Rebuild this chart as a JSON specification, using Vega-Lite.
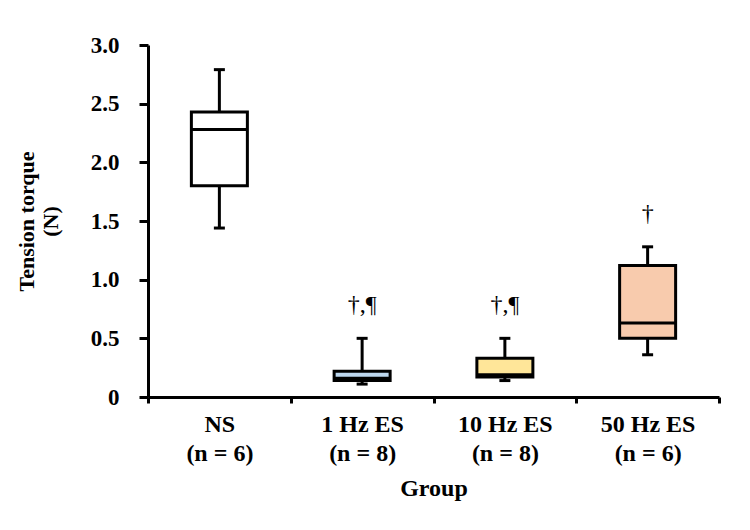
{
  "$schema": "https://vega.github.io/schema/vega-lite/v6.json",
  "autosize": {"type": "none"},
  "padding": {"left": 148, "top": 45, "right": 31, "bottom": 133},
  "width": 571,
  "height": 352,
  "background": "white",
  "config": {
    "view": {"stroke": null},
    "font": "Liberation Serif"
  },
  "data": {
    "values": [
      {"group": "NS\n(n = 6)", "min": 1.44, "q1": 1.80, "median": 2.28, "q3": 2.43, "max": 2.79, "sig": "", "sigY": 0},
      {"group": "1 Hz ES\n(n = 8)", "min": 0.11, "q1": 0.14, "median": 0.16, "q3": 0.22, "max": 0.50, "sig": "†,¶", "sigY": 0.78},
      {"group": "10 Hz ES\n(n = 8)", "min": 0.14, "q1": 0.17, "median": 0.19, "q3": 0.33, "max": 0.50, "sig": "†,¶", "sigY": 0.78},
      {"group": "50 Hz ES\n(n = 6)", "min": 0.36, "q1": 0.50, "median": 0.63, "q3": 1.12, "max": 1.28, "sig": "†", "sigY": 1.56}
    ]
  },
  "encoding": {
    "x": {
      "field": "group",
      "type": "nominal",
      "sort": null,
      "scale": {"paddingInner": 0, "paddingOuter": 0},
      "axis": {
        "title": "Group",
        "titleFont": "Liberation Serif",
        "titleFontSize": 24,
        "titleFontWeight": "bold",
        "titleColor": "black",
        "titlePadding": 11,
        "labelAngle": 0,
        "labelExpr": "isValid(datum.value) ? split(datum.value, '\\n') : ''",
        "labelFont": "Liberation Serif",
        "labelFontSize": 24,
        "labelFontWeight": "bold",
        "labelColor": "black",
        "labelLineHeight": 29,
        "labelPadding": 9,
        "domainColor": "black",
        "domainWidth": 3,
        "tickColor": "black",
        "tickWidth": 3,
        "tickSize": 6,
        "tickBand": "extent"
      }
    }
  },
  "layer": [
    {
      "mark": {"type": "rule", "color": "black", "strokeWidth": 3},
      "encoding": {
        "y": {
          "field": "min",
          "type": "quantitative",
          "scale": {"domain": [0, 3]},
          "axis": {
            "title": ["Tension torque", "(N)"],
            "titleFont": "Liberation Serif",
            "titleFontSize": 22,
            "titleFontWeight": "bold",
            "titleColor": "black",
            "titleLineHeight": 24,
            "titlePadding": 28,
            "values": [0, 0.5, 1, 1.5, 2, 2.5, 3],
            "labelExpr": "datum.value == 0 ? '0' : format(datum.value, '.1f')",
            "labelFont": "Liberation Serif",
            "labelFontSize": 23,
            "labelFontWeight": "bold",
            "labelColor": "black",
            "labelPadding": 20,
            "domainColor": "black",
            "domainWidth": 3,
            "tickColor": "black",
            "tickWidth": 3,
            "tickSize": 9,
            "grid": false
          }
        },
        "y2": {"field": "max"}
      }
    },
    {
      "mark": {"type": "bar", "size": 56, "stroke": "black", "strokeWidth": 3},
      "encoding": {
        "y": {"field": "q1", "type": "quantitative"},
        "y2": {"field": "q3"},
        "fill": {
          "field": "group",
          "type": "nominal",
          "sort": null,
          "scale": {"range": ["#ffffff", "#bdd7ee", "#ffe699", "#f8cbad"]},
          "legend": null
        }
      }
    },
    {
      "mark": {"type": "tick", "color": "black", "size": 56, "thickness": 3, "opacity": 1},
      "encoding": {"y": {"field": "median", "type": "quantitative"}}
    },
    {
      "mark": {"type": "tick", "color": "black", "size": 11, "thickness": 3, "opacity": 1},
      "encoding": {"y": {"field": "max", "type": "quantitative"}}
    },
    {
      "mark": {"type": "tick", "color": "black", "size": 11, "thickness": 3, "opacity": 1},
      "encoding": {"y": {"field": "min", "type": "quantitative"}}
    },
    {
      "mark": {"type": "text", "font": "Liberation Serif", "fontSize": 24, "color": "black", "baseline": "middle"},
      "encoding": {
        "y": {"field": "sigY", "type": "quantitative"},
        "text": {"field": "sig"}
      }
    }
  ]
}
